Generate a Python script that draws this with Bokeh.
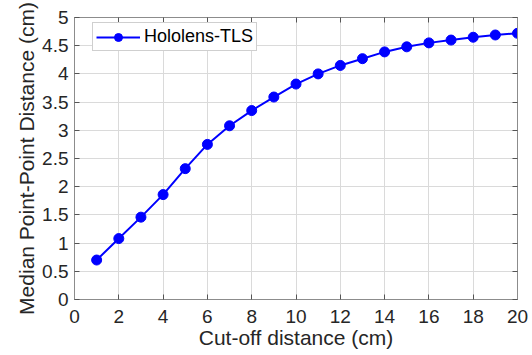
from bokeh.plotting import figure
from bokeh.models import Range1d, LinearAxis, FixedTicker, Legend, LegendItem
from bokeh.embed import file_html
from bokeh.resources import INLINE

cutoff = [1, 2, 3, 4, 5, 6, 7, 8, 9, 10, 11, 12, 13, 14, 15, 16, 17, 18, 19, 20]
median_dist = [0.70, 1.08, 1.46, 1.86, 2.32, 2.75, 3.08, 3.35, 3.59, 3.82,
               4.00, 4.15, 4.27, 4.39, 4.48, 4.55, 4.60, 4.65, 4.69, 4.72]
series_name = "Hololens-TLS"
x_ticks = [0, 2, 4, 6, 8, 10, 12, 14, 16, 18, 20]
y_ticks = [0, 0.5, 1, 1.5, 2, 2.5, 3, 3.5, 4, 4.5, 5]
y_tick_labels = ["0", "0.5", "1", "1.5", "2", "2.5", "3", "3.5", "4", "4.5", "5"]
x_label = "Cut-off distance (cm)"
y_label = "Median Point-Point Distance (cm)"

FONT = "Liberation Sans"
AXC = "#8c8c8c"
TXT = "#262626"

p = figure(width=532, height=355, output_backend="svg", toolbar_location=None,
           x_range=Range1d(0, 20), y_range=Range1d(0, 5),
           min_border_left=74, min_border_right=15, min_border_top=17, min_border_bottom=56)
p.outline_line_color = None
p.background_fill_color = "white"

def style_axis(ax, ticks, labels=True):
    ax.ticker = FixedTicker(ticks=ticks)
    ax.axis_line_color = AXC
    ax.axis_line_width = 1
    ax.major_tick_line_color = "#555555"
    ax.major_tick_in = 5
    ax.major_tick_out = 0
    ax.minor_tick_line_color = None
    if labels:
        ax.major_label_text_font = FONT
        ax.major_label_text_font_size = "19px"
        ax.major_label_text_color = TXT
        ax.major_label_standoff = 7
        ax.axis_label_text_font = FONT
        ax.axis_label_text_font_size = "21px"
        ax.axis_label_text_font_style = "normal"
        ax.axis_label_text_color = TXT
        ax.axis_label_standoff = 1
    else:
        ax.major_label_text_font_size = "1px"
        ax.major_label_text_alpha = 0
        ax.major_label_standoff = 0

style_axis(p.xaxis[0], x_ticks)
style_axis(p.yaxis[0], y_ticks)
p.xaxis[0].axis_label = x_label
p.xaxis[0].major_label_standoff = 10
p.xaxis[0].axis_label_standoff = 0
p.yaxis[0].axis_label = y_label
p.yaxis[0].major_label_standoff = 6
p.yaxis[0].major_label_overrides = {t: l for t, l in zip(y_ticks, y_tick_labels)}

top = LinearAxis()
style_axis(top, x_ticks, labels=False)
p.add_layout(top, "above")
right = LinearAxis()
style_axis(right, y_ticks, labels=False)
p.add_layout(right, "right")

p.xgrid.ticker = FixedTicker(ticks=x_ticks)
p.ygrid.ticker = FixedTicker(ticks=y_ticks)
for g in (p.xgrid[0], p.ygrid[0]):
    g.grid_line_color = "#dadada"
    g.grid_line_width = 1

ln = p.line(cutoff, median_dist, line_color="#0000ff", line_width=2)
sc = p.scatter(cutoff, median_dist, size=10, marker="circle",
               fill_color="#0000ff", line_color="#0000ff")

legend = Legend(items=[LegendItem(label=series_name, renderers=[ln, sc])],
                location=(18, 248))
legend.glyph_width = 44
legend.glyph_height = 20
legend.label_standoff = 4
legend.padding = 3
legend.spacing = 0
legend.margin = 0
legend.label_text_font = FONT
legend.label_text_font_size = "18px"
legend.label_text_color = "#000000"
legend.border_line_color = "#a0a0a0"
legend.border_line_width = 1
legend.background_fill_color = "white"
legend.background_fill_alpha = 1
p.add_layout(legend, "center")

open("out.html", "w").write(file_html(p, INLINE))
